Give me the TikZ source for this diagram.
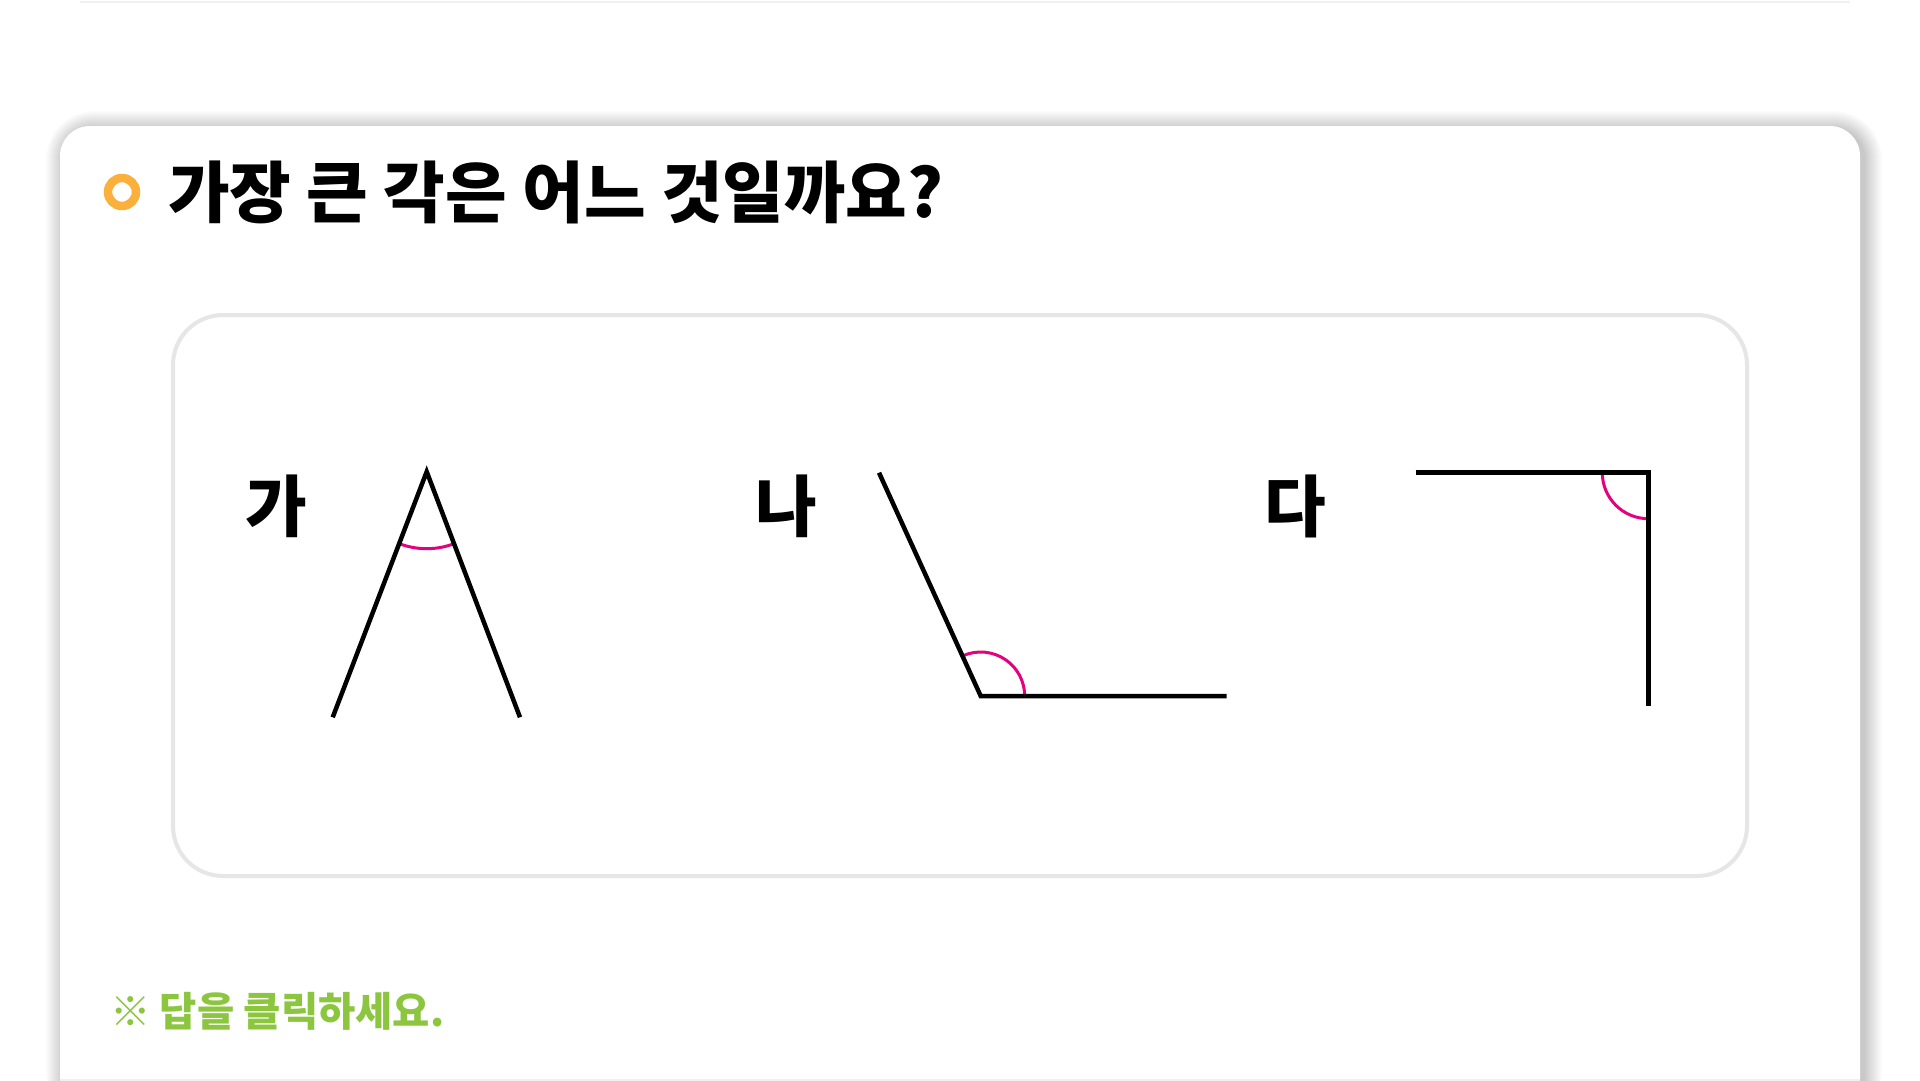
\documentclass[tikz,border=0pt]{standalone}
\usepackage{fontspec}
\newfontfamily\kr{Noto Sans CJK KR}
\definecolor{ringorange}{HTML}{FBB03B}
\definecolor{anglepink}{HTML}{E5007E}
\definecolor{hintgreen}{HTML}{8CC63F}
\definecolor{boxgray}{HTML}{E6E6E6}
\definecolor{faintgray}{HTML}{F0F0F0}
\tikzset{
  titletext/.style={anchor=west, inner sep=0pt, font=\kr\bfseries\fontsize{67}{80}\selectfont},
  figlabel/.style={anchor=center, inner sep=0pt, font=\kr\bfseries\fontsize{67}{80}\selectfont},
  hinttext/.style={anchor=west, inner sep=0pt, text=hintgreen, font=\kr\bfseries\fontsize{40.5}{48}\selectfont},
  rayline/.style={draw=black, line width=4.5pt, line cap=butt, line join=miter},
  anglemark/.style={draw=anglepink, line width=3pt},
}
\begin{document}
\begin{tikzpicture}[x=1pt,y=-1pt]
\useasboundingbox (0,0) rectangle (1920,1081);
\fill[white] (0,0) rectangle (1920,1081);
% faint line at top
\draw[faintgray, line width=2pt] (80,2) -- (1850,2);
% card shadow
\foreach \i in {1,...,18}{
  \fill[black, opacity=0.012, rounded corners=30+\i] (64-\i,129-\i) rectangle (1864+\i,1120);
}
% card
\fill[white, rounded corners=30] (60,126) rectangle (1860,1130);
\draw[faintgray, line width=1.5pt] (60,1080) -- (1860,1080);
% title
\node[circle, draw=ringorange, line width=8.5pt, minimum size=28pt, inner sep=0pt] (bullet) at (122,192) {};
\node[titletext] (title) at (168,192) {가장 큰 각은 어느 것일까요?};
% inner box
\draw[boxgray, line width=4pt, rounded corners=50] (173,315) rectangle (1747,876);
% labels
\node[figlabel] (la) at (276.5,506.5) {가};
\node[figlabel] (lb) at (786,506.5) {나};
\node[figlabel] (lc) at (1295.5,506.5) {다};
% angle ga
\coordinate (gaV) at (426.7,471.7);
\coordinate (gaL) at (332.7,717.3);
\coordinate (gaR) at (520,717.3);
\draw[anglemark] ([shift={(69.06:77)}]gaV) arc (69.06:110.94:77);
\draw[rayline] (gaL) -- (gaV) -- (gaR);
% angle na
\coordinate (naV) at (980.7,696);
\coordinate (naU) at (879,472.7);
\coordinate (naR) at (1226.7,696);
\draw[anglemark] ([shift={(245.5:44)}]naV) arc (245.5:360:44);
\draw[rayline] (naU) -- (naV) -- (naR);
% angle da
\coordinate (daV) at (1648.3,472.7);
\coordinate (daL) at (1415.7,472.7);
\coordinate (daD) at (1648.3,705.7);
\draw[anglemark] ([shift={(90:46)}]daV) arc (90:180:46);
\draw[rayline] (daL) -- (daV) -- (daD);
% hint
\node[hinttext] (hint) at (110,1011) {※ 답을 클릭하세요.};
\end{tikzpicture}
\end{document}
